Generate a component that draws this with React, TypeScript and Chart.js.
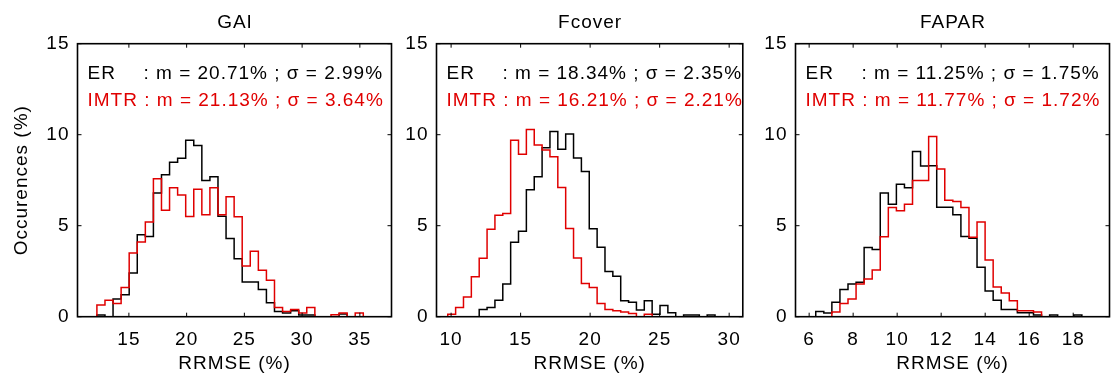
import React, { useEffect, useRef } from 'react';
import { Chart, registerables } from 'chart.js';

Chart.register(...registerables);

// ---------- data ----------
const yTicks = [0, 5, 10, 15];
const yMax = 15;

// GAI
const gaiTitle = 'GAI';
const gaiTicks = [15, 20, 25, 30, 35];
const gaiRange = [10.55, 37.74];
const gaiBinStart = 12.23;
const gaiBinWidth = 0.699;
const gaiER = [0.1, 0, 0.97, 1.2, 2.4, 4.5, 4.4, 6.8, 7.8, 8.48, 8.7, 9.69, 9.41, 7.49, 7.69, 5.52, 4.3, 3.19, 1.9, 1.9, 1.49, 0.77, 0.28, 0.2, 0.33, 0.1, 0.1, 0, 0, 0, 0.15, 0, 0];
const gaiIMTR = [0.64, 0.9, 0.72, 1.6, 3.5, 4.1, 5.2, 7.58, 5.85, 7.08, 6.68, 5.5, 7.0, 5.6, 7.08, 5.6, 6.59, 5.49, 2.79, 3.6, 2.55, 2.0, 0.5, 0.29, 0.4, 0.2, 0.5, 0, 0, 0.11, 0.2, 0, 0.2];
const gaiERText = ': m = 20.71% ; σ = 2.99%';
const gaiIMTRText = 'IMTR : m = 21.13% ; σ = 3.64%';

// Fcover
const fcoverTitle = 'Fcover';
const fcoverTicks = [10, 15, 20, 25, 30];
const fcoverRange = [8.95, 30.98];
const fcoverBinStart = 9.76;
const fcoverBinWidth = 0.5654;
const fcoverER = [0, 0, 0, 0, 0.4, 0.5, 0.9, 1.8, 4.09, 4.7, 6.97, 7.69, 9.28, 10.18, 9.2, 10.04, 8.72, 7.98, 4.83, 3.82, 2.48, 2.22, 0.88, 0.79, 0.37, 0.88, 0.13, 0.62, 0.22, 0, 0.09, 0.09, 0, 0.09];
const fcoverIMTR = [0.13, 0.5, 1.08, 2.2, 3.21, 4.8, 5.58, 5.67, 9.69, 8.92, 10.29, 9.43, 9.16, 8.79, 7.1, 4.84, 3.23, 1.82, 1.6, 0.73, 0.4, 0.33, 0.26, 0.17, 0, 0.13, 0, 0, 0, 0, 0, 0, 0, 0];
const fcoverERText = ': m = 18.34% ; σ = 2.35%';
const fcoverIMTRText = 'IMTR : m = 16.21% ; σ = 2.21%';

// FAPAR
const faparTitle = 'FAPAR';
const faparTicks = [6, 8, 10, 12, 14, 16, 18];
const faparRange = [5.38, 19.65];
const faparBinStart = 6.3;
const faparBinWidth = 0.3665;
const faparER = [0.28, 0.2, 0.79, 1.49, 1.8, 1.89, 3.8, 3.69, 6.79, 6.18, 7.28, 7.08, 9.08, 8.28, 8.3, 6.02, 6.02, 5.6, 4.4, 4.31, 2.72, 1.41, 0.9, 0.4, 0.4, 0.22, 0.22, 0.1, 0, 0.09, 0, 0, 0.09];
const faparIMTR = [0, 0, 0.26, 0.72, 0.97, 1.8, 2.07, 2.57, 4.39, 6.0, 5.82, 6.18, 7.49, 7.49, 9.9, 8.11, 6.4, 6.33, 6.0, 4.37, 5.21, 3.12, 1.63, 1.3, 0.88, 0.33, 0.33, 0.26, 0, 0, 0, 0, 0];
const faparERText = ': m = 11.25% ; σ = 1.75%';
const faparIMTRText = 'IMTR : m = 11.77% ; σ = 1.72%';

const erLabel = 'ER';
const xTitle = 'RRMSE (%)';
const yTitle = 'Occurences (%)';

// ---------- styling ----------
const RED = '#e00000';
const FAMILY = "'Liberation Sans', Arial, sans-serif";
const FONT = { family: FAMILY, size: 19 };

const panels = [
  { title: gaiTitle, ticks: gaiTicks, range: gaiRange, start: gaiBinStart, width: gaiBinWidth, er: gaiER, imtr: gaiIMTR, erText: gaiERText, imtrText: gaiIMTRText },
  { title: fcoverTitle, ticks: fcoverTicks, range: fcoverRange, start: fcoverBinStart, width: fcoverBinWidth, er: fcoverER, imtr: fcoverIMTR, erText: fcoverERText, imtrText: fcoverIMTRText },
  { title: faparTitle, ticks: faparTicks, range: faparRange, start: faparBinStart, width: faparBinWidth, er: faparER, imtr: faparIMTR, erText: faparERText, imtrText: faparIMTRText },
];

function histPoints(start: number, width: number, counts: number[]) {
  const pts: { x: number; y: number }[] = [{ x: start, y: 0 }];
  counts.forEach((c, i) => pts.push({ x: start + i * width, y: c }));
  pts.push({ x: start + counts.length * width, y: 0 });
  return pts;
}

const spacingPlugin = {
  id: 'spacing',
  beforeUpdate(chart: any) { try { chart.ctx.letterSpacing = '1px'; } catch (e) {} },
  beforeDraw(chart: any) { try { chart.ctx.letterSpacing = '1px'; } catch (e) {} },
};

const framePlugin = {
  id: 'frame',
  afterDraw(chart: any) {
    const { ctx, chartArea: a, scales } = chart;
    ctx.save();
    ctx.strokeStyle = '#000';
    ctx.lineWidth = 1;
    ctx.beginPath();
    const tl = 4;
    for (const t of scales.x.ticks) {
      const px = scales.x.getPixelForValue(t.value);
      ctx.moveTo(px, a.bottom); ctx.lineTo(px, a.bottom - tl);
      ctx.moveTo(px, a.top); ctx.lineTo(px, a.top + tl);
    }
    for (const t of scales.y.ticks) {
      const py = scales.y.getPixelForValue(t.value);
      ctx.moveTo(a.left, py); ctx.lineTo(a.left + tl, py);
      ctx.moveTo(a.right, py); ctx.lineTo(a.right - tl, py);
    }
    ctx.stroke();
    ctx.lineWidth = 1.6;
    ctx.strokeRect(a.left, a.top, a.right - a.left, a.bottom - a.top);
    ctx.restore();
  },
};

function Panel({ cfg, left, showYTitle }: { cfg: any; left: number; showYTitle: boolean }) {
  const ref = useRef<HTMLCanvasElement>(null);
  useEffect(() => {
    if (!ref.current) return;
    const textPlugin = {
      id: 'stats',
      afterDraw(chart: any) {
        const { ctx, chartArea: a } = chart;
        ctx.save();
        try { ctx.letterSpacing = '1px'; } catch (e) {}
        ctx.font = `19px ${FAMILY}`;
        ctx.textBaseline = 'alphabetic';
        // panel title, centred over the plot area
        ctx.fillStyle = '#000';
        ctx.textAlign = 'center';
        ctx.fillText(cfg.title, (a.left + a.right) / 2 + 0.5, 28);
        // stats annotation
        ctx.textAlign = 'left';
        const x0 = a.left + 10;
        ctx.fillText(erLabel, x0, a.top + 35.3);
        ctx.fillText(cfg.erText, x0 + 56, a.top + 35.3);
        ctx.fillStyle = RED;
        ctx.fillText(cfg.imtrText, x0, a.top + 62.3);
        ctx.restore();
      },
    };
    const chart = new Chart(ref.current, {
      type: 'line',
      data: {
        datasets: [
          { label: 'IMTR', data: histPoints(cfg.start, cfg.width, cfg.imtr), borderColor: RED, borderWidth: 1.5, stepped: true, pointRadius: 0, fill: false },
          { label: 'ER', data: histPoints(cfg.start, cfg.width, cfg.er), borderColor: '#000', borderWidth: 1.5, stepped: true, pointRadius: 0, fill: false },
        ],
      },
      options: {
        responsive: false,
        animation: false,
        layout: { padding: { left: 0, right: 1.5, top: 43.7, bottom: 0 } },
        plugins: {
          legend: { display: false },
          tooltip: { enabled: false },
          title: { display: false },
        },
        scales: {
          x: {
            type: 'linear',
            min: cfg.range[0],
            max: cfg.range[1],
            grid: { display: false, drawTicks: false },
            border: { display: false },
            ticks: { padding: 11.2, color: '#000', font: FONT, maxRotation: 0 },
            afterBuildTicks: (s: any) => { s.ticks = cfg.ticks.map((v: number) => ({ value: v })); },
            afterFit: (s: any) => { s.height = 66.3; },
            title: { display: true, text: xTitle, color: '#000', font: FONT, padding: { top: 0, bottom: 7.6 } },
          },
          y: {
            type: 'linear',
            min: 0,
            max: yMax,
            grid: { display: false, drawTicks: false },
            border: { display: false },
            ticks: { padding: 8, color: '#000', font: FONT },
            afterBuildTicks: (s: any) => { s.ticks = yTicks.map((v) => ({ value: v })); },
            afterFit: (s: any) => { s.width = 77.5; },
            title: { display: showYTitle, text: yTitle, color: '#000', font: FONT, padding: { top: 10.6, bottom: 0 } },
          },
        },
      } as any,
      plugins: [spacingPlugin, framePlugin, textPlugin],
    });
    return () => chart.destroy();
  }, []);
  return (
    <canvas
      ref={ref}
      width={393}
      height={383}
      style={{ position: 'absolute', left, top: 0, width: 393, height: 383, display: 'block' }}
    />
  );
}

export default function App() {
  return (
    <div style={{ position: 'absolute', left: 0, top: 0, width: 1111, height: 383, background: '#fff', overflow: 'hidden' }}>
      {panels.map((p, i) => (
        <Panel key={p.title} cfg={p} left={i * 359} showYTitle={i === 0} />
      ))}
    </div>
  );
}
